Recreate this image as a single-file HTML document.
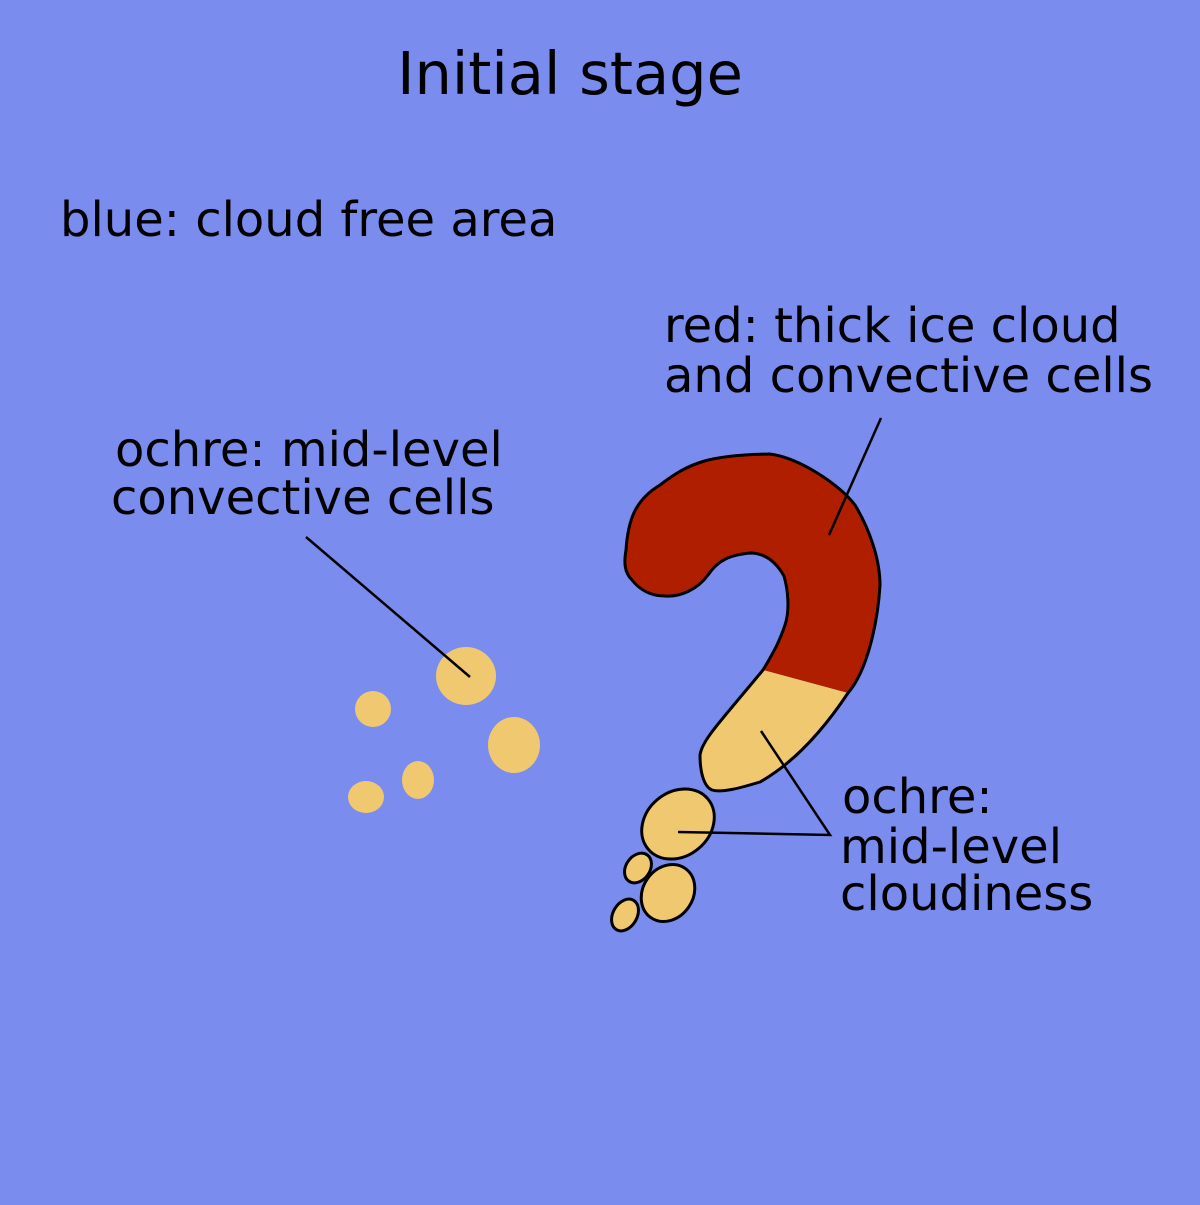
<!DOCTYPE html>
<html><head><style>html,body{margin:0;padding:0;background:#7a8cee}</style></head><body>
<svg width="1200" height="1200" viewBox="0 0 1200 1200" xmlns="http://www.w3.org/2000/svg" font-family="DejaVu Sans, Liberation Sans, sans-serif">
<rect width="1200" height="1200" fill="#7a8cee"/>
<text x="570" y="94" font-size="59" text-anchor="middle">Initial stage</text>
<text x="60" y="236" font-size="48">blue: cloud free area</text>
<text x="664" y="342" font-size="48">red: thick ice cloud</text>
<text x="664" y="392" font-size="48">and convective cells</text>
<text x="115" y="466" font-size="48">ochre: mid-level</text>
<text x="111" y="514" font-size="48">convective cells</text>
<text x="842" y="813" font-size="48">ochre:</text>
<text x="840" y="863" font-size="48">mid-level</text>
<text x="840" y="910" font-size="48">cloudiness</text>
<g fill="#f0c870">
<ellipse cx="466" cy="676" rx="30" ry="29"/>
<ellipse cx="373" cy="709" rx="18" ry="18"/>
<ellipse cx="514" cy="745" rx="26" ry="28"/>
<ellipse cx="418" cy="780" rx="16" ry="19"/>
<ellipse cx="366" cy="797" rx="18" ry="16"/>
</g>
<path d="M763,670 C775,650 780,640 785,625 C790,610 788,590 784,576 C776,562 765,553 750,553 C730,555 718,560 708,575 C697,590 680,597 665,596 C650,596 640,590 632,580 C624,572 624,562 626,550 C628,520 635,500 660,485 C690,462 710,455 770,454 C800,458 840,485 855,505 C870,530 880,560 880,585 C878,620 868,670 848,693 Z" fill="#b01e00"/>
<path d="M848,693 C820,735 790,765 760,782 C740,788 722,793 712,790 C703,786 700,770 700,755 C702,740 720,722 763,670 Z" fill="#f0c870"/>
<path d="M763,670 C775,650 780,640 785,625 C790,610 788,590 784,576 C776,562 765,553 750,553 C730,555 718,560 708,575 C697,590 680,597 665,596 C650,596 640,590 632,580 C624,572 624,562 626,550 C628,520 635,500 660,485 C690,462 710,455 770,454 C800,458 840,485 855,505 C870,530 880,560 880,585 C878,620 868,670 848,693 C820,735 790,765 760,782 C740,788 722,793 712,790 C703,786 700,770 700,755 C702,740 720,722 763,670 Z" fill="none" stroke="#000" stroke-width="3"/>
<g fill="#f0c870" stroke="#000" stroke-width="3">
<ellipse cx="678" cy="824" rx="39" ry="32" transform="rotate(-40 678 824)"/>
<ellipse cx="638" cy="868" rx="12" ry="16" transform="rotate(35 638 868)"/>
<ellipse cx="668" cy="893" rx="25" ry="30" transform="rotate(35 668 893)"/>
<ellipse cx="625" cy="915" rx="12" ry="17" transform="rotate(30 625 915)"/>
</g>
<g stroke="#000" stroke-width="2.5" fill="none">
<line x1="881" y1="418" x2="829" y2="535"/>
<line x1="306" y1="537" x2="470" y2="677"/>
<polyline points="761,731 830,835 678,832"/>
</g>
</svg>
</body></html>
